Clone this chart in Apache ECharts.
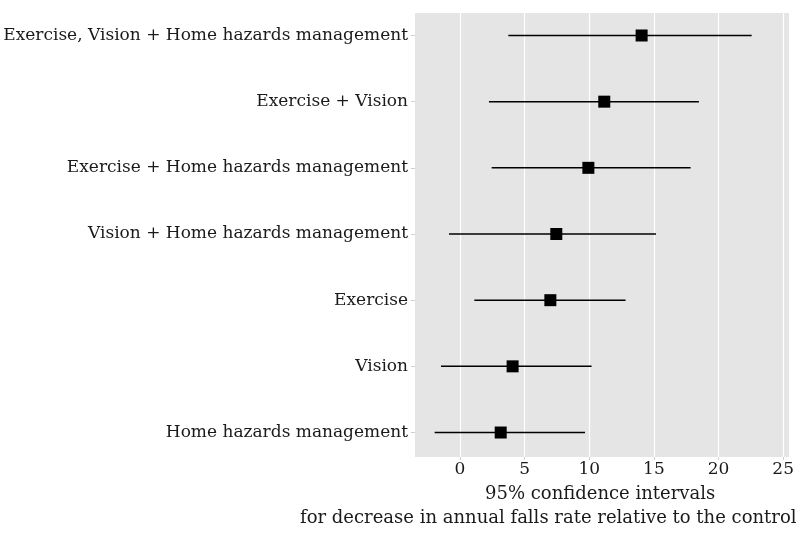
<!DOCTYPE html>
<html>
<head>
<meta charset="utf-8">
<script src="https://cdn.jsdelivr.net/npm/echarts@6/dist/echarts.min.js"></script>
<style>
  html, body { margin: 0; padding: 0; background: #fff; }
  #chart { width: 800px; height: 533px; }
</style>
</head>
<body>
<div id="chart"></div>
<script>
// interventions, bottom to top
var categories = [
  'Home hazards management',
  'Vision',
  'Exercise',
  'Vision + Home hazards management',
  'Exercise + Home hazards management',
  'Exercise + Vision',
  'Exercise, Vision + Home hazards management'
];
var estimate = [3.15, 4.07, 6.99, 7.45, 9.93, 11.16, 14.05];
var lower    = [-1.96, -1.47, 1.11, -0.85, 2.45, 2.24, 3.74];
var upper    = [9.67, 10.18, 12.81, 15.16, 17.84, 18.48, 22.56];
var xTicks   = [0, 5, 10, 15, 20, 25];
var titleLines = ['95% confidence intervals', 'for decrease in annual falls rate relative to the control'];

var FONT = 'DejaVu Serif';
var rows = categories.map(function (c, i) { return i + 1; });

var barData = [];
var pointData = [];
for (var i = 0; i < categories.length; i++) {
  barData.push([lower[i], upper[i], rows[i]]);
  pointData.push([estimate[i], rows[i]]);
}

var myChart = echarts.init(document.getElementById('chart'));

var option = {
  animation: false,
  grid: {
    left: 415, right: 11, top: 13, bottom: 76,
    containLabel: false,
    outerBoundsMode: 'none',
    show: true, backgroundColor: '#e5e5e5', borderWidth: 0
  },
  // axis title, two lines placed like the original
  graphic: [{
    type: 'text', left: 485, top: 485,
    style: { text: titleLines[0], fill: '#1a1a1a', font: '18px "DejaVu Serif"' }
  }, {
    type: 'text', left: 300, top: 509,
    style: { text: titleLines[1], fill: '#1a1a1a', font: '18px "DejaVu Serif"' }
  }],
  xAxis: {
    type: 'value',
    min: -3.48, max: 25.45,
    axisLine: { show: false, onZero: false },
    axisTick: { show: true, length: 3, lineStyle: { color: '#d0d0d0' }, customValues: xTicks },
    axisLabel: {
      customValues: xTicks, color: '#1a1a1a', fontFamily: FONT, fontSize: 17, margin: 4
    },
    splitLine: { show: true, lineStyle: { color: '#ffffff', width: 1.2 } },
    interval: 5
  },
  yAxis: {
    type: 'value',
    min: 0.63, max: 7.34,
    axisLine: { show: false, onZero: false },
    axisTick: { show: true, length: 4, lineStyle: { color: '#d0d0d0' }, customValues: rows },
    axisLabel: {
      customValues: rows,
      color: '#1a1a1a', fontFamily: FONT, fontSize: 17, margin: 7,
      formatter: function (v) { return categories[Math.round(v) - 1] || ''; }
    },
    splitLine: { show: false }
  },
  series: [{
    type: 'custom',
    data: barData,
    encode: { x: [0, 1], y: 2 },
    renderItem: function (params, api) {
      var a = api.coord([api.value(0), api.value(2)]);
      var b = api.coord([api.value(1), api.value(2)]);
      return {
        type: 'line',
        shape: { x1: a[0], y1: a[1], x2: b[0], y2: b[1] },
        style: { stroke: '#000', lineWidth: 1.5 }
      };
    },
    z: 2
  }, {
    type: 'scatter',
    data: pointData,
    symbol: 'rect',
    symbolSize: 12,
    itemStyle: { color: '#000', opacity: 1 },
    z: 3
  }]
};

myChart.setOption(option);
</script>
</body>
</html>
